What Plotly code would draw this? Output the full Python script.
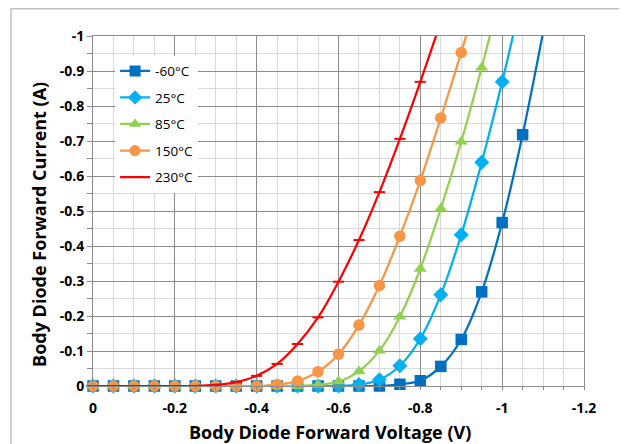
import plotly.graph_objects as go

# ---- data ----
series_names = ["-60°C", "25°C", "85°C", "150°C", "230°C"]
series_colors = ["#0070C0", "#00B0F0", "#92D050", "#F79646", "#FF0000"]
series_symbols = ["square", "diamond", "triangle-up", "circle", "line-ew"]

v_60 = [0, -0.05, -0.1, -0.15, -0.2, -0.25, -0.3, -0.35, -0.4, -0.45, -0.5, -0.55,
        -0.6, -0.65, -0.7, -0.75, -0.8, -0.85, -0.9, -0.95, -1.0, -1.05, -1.1]
i_60 = [0, 0, 0, 0, 0, 0, 0, 0, 0, 0, 0, 0,
        0, 0, 0, -0.005, -0.015, -0.056, -0.133, -0.269, -0.467, -0.718, -1.01]

v_25 = [0, -0.05, -0.1, -0.15, -0.2, -0.25, -0.3, -0.35, -0.4, -0.45, -0.5, -0.55,
        -0.6, -0.65, -0.7, -0.75, -0.8, -0.85, -0.9, -0.95, -1.0, -1.05]
i_25 = [0, 0, 0, 0, 0, 0, 0, 0, 0, 0, 0, 0,
        0, -0.004, -0.018, -0.058, -0.135, -0.261, -0.432, -0.639, -0.869, -1.12]

v_85 = [0, -0.05, -0.1, -0.15, -0.2, -0.25, -0.3, -0.35, -0.4, -0.45, -0.5, -0.55,
        -0.6, -0.65, -0.7, -0.75, -0.8, -0.85, -0.9, -0.95, -1.0]
i_85 = [0, 0, 0, 0, 0, 0, 0, 0, 0, 0, 0, -0.003,
        -0.013, -0.042, -0.101, -0.198, -0.335, -0.507, -0.698, -0.91, -1.14]

v_150 = [0, -0.05, -0.1, -0.15, -0.2, -0.25, -0.3, -0.35, -0.4, -0.45, -0.5, -0.55,
         -0.6, -0.65, -0.7, -0.75, -0.8, -0.85, -0.9, -0.95]
i_150 = [0, 0, 0, 0, 0, 0, 0, 0, 0, -0.004, -0.014, -0.041,
         -0.091, -0.174, -0.287, -0.428, -0.587, -0.766, -0.953, -1.15]

v_230 = [0, -0.05, -0.1, -0.15, -0.2, -0.25, -0.3, -0.35, -0.4, -0.45, -0.5, -0.55,
         -0.6, -0.65, -0.7, -0.75, -0.8, -0.85]
i_230 = [0, 0, 0, 0, 0, 0, -0.003, -0.011, -0.029, -0.063, -0.12, -0.196,
         -0.298, -0.417, -0.554, -0.706, -0.869, -1.04]

x_tick_vals = [0, -0.2, -0.4, -0.6, -0.8, -1.0, -1.2]
x_tick_text = ["0", "-0.2", "-0.4", "-0.6", "-0.8", "-1", "-1.2"]
y_tick_vals = [0, -0.1, -0.2, -0.3, -0.4, -0.5, -0.6, -0.7, -0.8, -0.9, -1.0]
y_tick_text = ["0", "-0.1", "-0.2", "-0.3", "-0.4", "-0.5", "-0.6", "-0.7", "-0.8", "-0.9", "-1"]

x_title = "Body Diode Forward Voltage (V)"
y_title = "Body Diode Forward Current (A)"

FONT = "'Open Sans', Lato, sans-serif"

fig = go.Figure()
all_v = [v_60, v_25, v_85, v_150, v_230]
all_i = [i_60, i_25, i_85, i_150, i_230]
for k, name in enumerate(series_names):
    xs, ys = all_v[k], all_i[k]
    sym = series_symbols[k]
    if sym == "line-ew":
        marker = dict(symbol=sym, size=[8] * (len(xs) - 1) + [0], opacity=1,
                      line=dict(color=series_colors[k], width=2), color=series_colors[k])
    else:
        marker = dict(symbol=sym, size=[11.5] * (len(xs) - 1) + [0], opacity=1,
                      color=series_colors[k], line=dict(width=0))
    fig.add_trace(go.Scatter(
        x=xs, y=ys, name=name, mode="lines+markers",
        line=dict(color=series_colors[k], width=2.25, shape="spline", smoothing=0.8),
        marker=marker, cliponaxis=False, legendgroup=name,
    ))

MAJOR = "#8C8C8C"
MINOR = "#D9D9D9"

fig.update_xaxes(
    range=[0, -1.2], tickvals=x_tick_vals, ticktext=x_tick_text,
    showgrid=True, gridcolor=MAJOR, gridwidth=1,
    minor=dict(dtick=0.05, tick0=0, showgrid=True, gridcolor=MINOR, ticks="outside",
               ticklen=3, tickcolor=MAJOR),
    ticks="outside", ticklen=3, tickcolor=MAJOR, ticklabelstandoff=6,
    showline=True, linecolor=MAJOR, linewidth=1, mirror=True,
    zeroline=False,
    tickfont=dict(family=FONT, size=14, color="#000000", weight="bold"),
)
fig.update_yaxes(
    range=[0, -1.0], tickvals=y_tick_vals, ticktext=y_tick_text,
    showgrid=True, gridcolor=MAJOR, gridwidth=1,
    minor=dict(dtick=0.05, tick0=0, showgrid=True, gridcolor=MINOR, ticks="outside",
               ticklen=5, tickcolor=MAJOR),
    ticks="outside", ticklen=5, tickcolor=MAJOR,
    showline=True, linecolor=MAJOR, linewidth=1, mirror=True,
    zeroline=False,
    tickfont=dict(family=FONT, size=14, color="#000000", weight="bold"),
)

title_font = dict(family=FONT, size=18, color="#000000", weight="bold")
fig.add_annotation(text=x_title, xref="paper", yref="paper", x=0.4827, y=-0.1314,
                   xanchor="center", yanchor="middle", showarrow=False, font=title_font)
fig.add_annotation(text=y_title, xref="paper", yref="paper", x=-0.110, y=0.463,
                   xanchor="center", yanchor="middle", showarrow=False, textangle=-90,
                   font=title_font)

fig.add_shape(type="rect", xref="paper", yref="paper",
              x0=-0.167, x1=1.0815, y0=-0.2, y1=1.078,
              line=dict(color="#BFBFBF", width=1.5), layer="below")

fig.update_layout(
    width=619, height=436,
    margin=dict(l=85, r=43, t=28, b=58, autoexpand=False),
    paper_bgcolor="white", plot_bgcolor="white",
    showlegend=True,
    legend=dict(x=0.045, y=0.944, xanchor="left", yanchor="top",
                bgcolor="white", borderwidth=0, tracegroupgap=6,
                traceorder="grouped",
                font=dict(family=FONT, size=13.5, color="#000000")),
)

fig.write_html("out.html")
